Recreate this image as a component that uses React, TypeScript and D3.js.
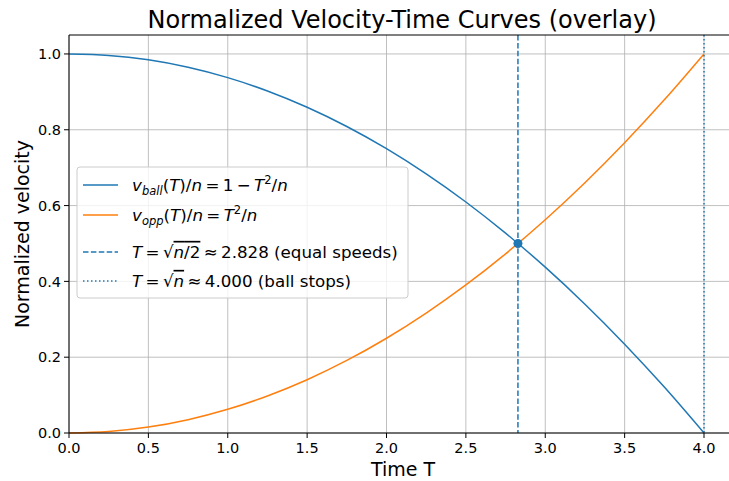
import React from "react";
import * as d3 from "d3";

const T_VALUES = [0, 0.25, 0.5, 0.75, 1.0, 1.25, 1.5, 1.75, 2.0, 2.25, 2.5, 2.75, 3.0, 3.25, 3.5, 3.75, 4.0];
const V_BALL = [1, 0.9961, 0.9844, 0.9648, 0.9375, 0.9023, 0.8594, 0.8086, 0.75, 0.6836, 0.6094, 0.5273, 0.4375, 0.3398, 0.2344, 0.1211, 0];
const V_OPP = [0, 0.0039, 0.0156, 0.0352, 0.0625, 0.0977, 0.1406, 0.1914, 0.25, 0.3164, 0.3906, 0.4727, 0.5625, 0.6602, 0.7656, 0.8789, 1.0];
const X_TICKS = [0, 0.5, 1.0, 1.5, 2.0, 2.5, 3.0, 3.5, 4.0];
const Y_TICKS = [0, 0.2, 0.4, 0.6, 0.8, 1.0];
const T_EQUAL = 2.828;
const V_EQUAL = 0.5;
const T_STOP = 4.0;

const BLUE = "#1f77b4";
const ORANGE = "#ff7f0e";
const FONT = "DejaVu Sans, sans-serif";
const SP = "\u2009";

export default function App() {
  const W = 729, H = 481;
  const left = 69, top = 35, bottom = 433;
  const x = d3.scaleLinear().domain([0, 4.2]).range([left, left + 4.2 * 158.75]);
  const y = d3.scaleLinear().domain([0, 1.05]).range([bottom, top]);
  const line = d3.line<number>().x((_, i) => x(T_VALUES[i])).y((d) => y(d)).curve(d3.curveCatmullRom);
  const right = W + 10;

  const lx = 77, ly = 167, lw = 331, lh = 131;
  const rows = [185, 215, 252, 281];
  const hx0 = 83, hx1 = 118, tx = 132;
  const sub = 11.5;

  return (
    <svg width={W} height={H} style={{ position: "absolute", left: 0, top: 0, background: "#fff" }} fontFamily={FONT}>
      <rect width={W} height={H} fill="#fff" />
      {/* grid */}
      <g stroke="#b0b0b0" strokeWidth={0.8}>
        {X_TICKS.map((t) => <line key={"gx" + t} x1={x(t)} x2={x(t)} y1={top} y2={bottom} />)}
        {Y_TICKS.map((t) => <line key={"gy" + t} x1={left} x2={right} y1={y(t)} y2={y(t)} />)}
      </g>
      {/* curves */}
      <path d={line(V_BALL) || ""} fill="none" stroke={BLUE} strokeWidth={1.5} />
      <path d={line(V_OPP) || ""} fill="none" stroke={ORANGE} strokeWidth={1.5} />
      <line x1={x(T_EQUAL)} x2={x(T_EQUAL)} y1={top} y2={bottom} stroke={BLUE} strokeWidth={1.5} strokeDasharray="5.5,2.4" />
      <line x1={x(T_STOP)} x2={x(T_STOP)} y1={top} y2={bottom} stroke={BLUE} strokeWidth={1.5} strokeDasharray="1.5,2.5" />
      <circle cx={x(T_EQUAL)} cy={y(V_EQUAL)} r={4.5} fill={BLUE} />
      {/* spines */}
      <g stroke="#000" strokeWidth={1} fill="none">
        <line x1={left} x2={left} y1={top} y2={bottom} />
        <line x1={left} x2={right} y1={bottom} y2={bottom} />
        <line x1={left} x2={right} y1={top} y2={top} />
      </g>
      {/* ticks */}
      <g stroke="#000" strokeWidth={1}>
        {X_TICKS.map((t) => <line key={"tx" + t} x1={x(t)} x2={x(t)} y1={bottom} y2={bottom + 5} />)}
        {Y_TICKS.map((t) => <line key={"ty" + t} x1={left - 5} x2={left} y1={y(t)} y2={y(t)} />)}
      </g>
      <g fontSize={14.5} fill="#000">
        {X_TICKS.map((t) => (
          <text key={"lx" + t} x={x(t)} y={bottom + 20} textAnchor="middle">{t.toFixed(1)}</text>
        ))}
        {Y_TICKS.map((t) => (
          <text key={"ly" + t} x={left - 8} y={y(t)} dy="0.36em" textAnchor="end">{t.toFixed(1)}</text>
        ))}
      </g>
      <text x={403} y={476} textAnchor="middle" fontSize={19}>Time T</text>
      <text transform={`translate(29,${(top + bottom) / 2}) rotate(-90)`} textAnchor="middle" fontSize={19}>Normalized velocity</text>
      <text x={402} y={28} textAnchor="middle" fontSize={24}>Normalized Velocity-Time Curves (overlay)</text>
      {/* legend */}
      <rect x={lx} y={ly} width={lw} height={lh} rx={3} fill="#fff" fillOpacity={0.8} stroke="#cccccc" strokeWidth={1} />
      <line x1={hx0} x2={hx1} y1={rows[0]} y2={rows[0]} stroke={BLUE} strokeWidth={1.5} />
      <line x1={hx0} x2={hx1} y1={rows[1]} y2={rows[1]} stroke={ORANGE} strokeWidth={1.5} />
      <line x1={hx0} x2={hx1} y1={rows[2]} y2={rows[2]} stroke={BLUE} strokeWidth={1.5} strokeDasharray="5.5,2.4" />
      <line x1={hx0} x2={hx1} y1={rows[3]} y2={rows[3]} stroke={BLUE} strokeWidth={1.5} strokeDasharray="1.5,2.5" />
      <g fontSize={16.7} fill="#000">
        <text x={tx} y={rows[0]} dy="0.35em">
          <tspan fontStyle="italic">v</tspan>
          <tspan fontStyle="italic" fontSize={sub} dy={4}>ball</tspan>
          <tspan dy={-4}>(</tspan><tspan fontStyle="italic">T</tspan><tspan>)/</tspan><tspan fontStyle="italic">n</tspan>
          <tspan>{SP}={SP}1{SP}−{SP}</tspan><tspan fontStyle="italic">T</tspan>
          <tspan fontSize={sub} dy={-7}>2</tspan>
          <tspan dy={7}>/</tspan><tspan fontStyle="italic">n</tspan>
        </text>
        <text x={tx} y={rows[1]} dy="0.35em">
          <tspan fontStyle="italic">v</tspan>
          <tspan fontStyle="italic" fontSize={sub} dy={4}>opp</tspan>
          <tspan dy={-4}>(</tspan><tspan fontStyle="italic">T</tspan><tspan>)/</tspan><tspan fontStyle="italic">n</tspan>
          <tspan>{SP}={SP}</tspan><tspan fontStyle="italic">T</tspan>
          <tspan fontSize={sub} dy={-7}>2</tspan>
          <tspan dy={7}>/</tspan><tspan fontStyle="italic">n</tspan>
        </text>
        <text x={tx} y={rows[2]} dy="0.35em">
          <tspan fontStyle="italic">T</tspan><tspan>{SP}={SP}√</tspan>
          <tspan style={{ textDecoration: "overline" }}><tspan fontStyle="italic">n</tspan>/2</tspan>
          <tspan>{SP}≈{SP}2.828 (equal speeds)</tspan>
        </text>
        <text x={tx} y={rows[3]} dy="0.35em">
          <tspan fontStyle="italic">T</tspan><tspan>{SP}={SP}√</tspan>
          <tspan style={{ textDecoration: "overline" }} fontStyle="italic">n</tspan>
          <tspan>{SP}≈{SP}4.000 (ball stops)</tspan>
        </text>
      </g>
    </svg>
  );
}
